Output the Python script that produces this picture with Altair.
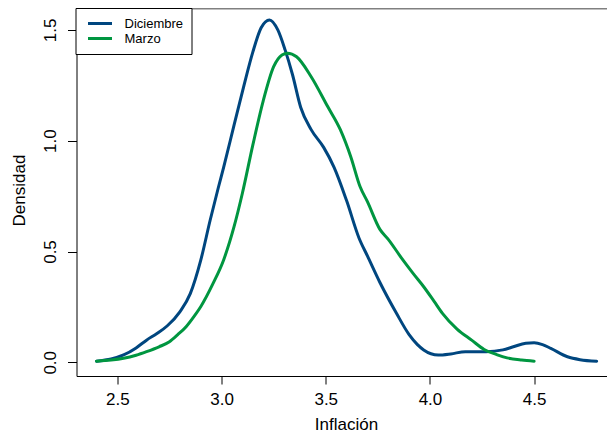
import altair as alt
import pandas as pd

# Diciembre density curve (x = inflación, d = densidad)
dic_x = [2.40, 2.47, 2.53, 2.59, 2.64, 2.69, 2.74, 2.80, 2.85, 2.90, 2.945, 2.985, 3.01, 3.06,
         3.105, 3.15, 3.19, 3.23, 3.27, 3.305, 3.34, 3.38, 3.43, 3.49, 3.54, 3.60, 3.66, 3.70,
         3.76, 3.84, 3.90, 3.94, 3.97, 4.04, 4.10, 4.17, 4.27, 4.35, 4.40, 4.46, 4.50, 4.54,
         4.58, 4.66, 4.72, 4.80]
dic_d = [0.005, 0.015, 0.033, 0.065, 0.10, 0.13, 0.165, 0.228, 0.31, 0.46, 0.64, 0.79, 0.88, 1.07,
         1.24, 1.40, 1.51, 1.545, 1.50, 1.41, 1.30, 1.15, 1.05, 0.97, 0.88, 0.73, 0.56, 0.48,
         0.36, 0.22, 0.125, 0.08, 0.056, 0.033, 0.038, 0.048, 0.048, 0.056, 0.070, 0.086, 0.088, 0.080,
         0.063, 0.025, 0.012, 0.005]

# Marzo density curve
mar_x = [2.40, 2.47, 2.53, 2.59, 2.64, 2.70, 2.75, 2.79, 2.83, 2.87, 2.90, 2.96, 3.01, 3.06,
         3.10, 3.15, 3.20, 3.25, 3.29, 3.316, 3.36, 3.43, 3.51, 3.57, 3.62, 3.665, 3.70, 3.76,
         3.80, 3.87, 3.92, 3.97, 4.02, 4.06, 4.13, 4.20, 4.26, 4.32, 4.37, 4.44, 4.50]
mar_d = [0.005, 0.010, 0.018, 0.032, 0.048, 0.07, 0.093, 0.125, 0.161, 0.21, 0.251, 0.357, 0.462, 0.612,
         0.763, 0.98, 1.18, 1.334, 1.387, 1.395, 1.379, 1.289, 1.153, 1.05, 0.928, 0.792, 0.725, 0.60,
         0.555, 0.462, 0.40, 0.341, 0.275, 0.221, 0.15, 0.10, 0.058, 0.035, 0.02, 0.01, 0.005]

series = ["Diciembre", "Marzo"]
colors = ["#00467f", "#009640"]
x_ticks = [2.5, 3.0, 3.5, 4.0, 4.5]
y_ticks = [0.0, 0.5, 1.0, 1.5]

df = pd.concat([
    pd.DataFrame({"x": dic_x, "d": dic_d, "serie": series[0], "o": range(len(dic_x))}),
    pd.DataFrame({"x": mar_x, "d": mar_d, "serie": series[1], "o": range(len(mar_x))}),
])

FONT = "Liberation Sans"
xscale = alt.Scale(domain=[2.304, 4.8496], nice=False, zero=False)
yscale = alt.Scale(domain=[-0.0618, 1.599], nice=False, zero=False)

lines = alt.Chart(df).mark_line(strokeWidth=3, interpolate="monotone", strokeCap="round").encode(
    x=alt.X("x:Q", scale=xscale,
            axis=alt.Axis(values=x_ticks, format=".1f", title="Inflación", grid=False,
                          tickSize=8, tickColor="black", domainColor="black",
                          labelFontSize=17, labelColor="black", labelPadding=7,
                          labelFont=FONT, labelFlush=False, labelOverlap=False,
                          titleFont=FONT, titleFontSize=17, titleFontWeight="normal",
                          titleColor="black", titleBaseline="alphabetic", titleY=53, titleX=269.5)),
    y=alt.Y("d:Q", scale=yscale,
            axis=alt.Axis(values=y_ticks, format=".1f", title="Densidad", grid=False,
                          tickSize=9, tickColor="black", domainColor="black",
                          labelFontSize=17, labelColor="black", labelAngle=270,
                          labelAlign="center", labelBaseline="alphabetic", labelPadding=12,
                          labelFont=FONT, labelFlush=False, labelOverlap=False,
                          titleFont=FONT, titleFontSize=17, titleFontWeight="normal",
                          titleColor="black", titleAngle=270, titleAlign="center",
                          titleBaseline="alphabetic", titleX=-52.5, titleY=182)),
    color=alt.Color("serie:N", scale=alt.Scale(domain=series, range=colors),
                    legend=alt.Legend(title=None, orient="none", legendX=-1, legendY=0,
                                      fillColor="white", strokeColor="black", padding=8,
                                      symbolType="stroke", symbolSize=576, symbolStrokeWidth=3,
                                      symbolOffset=3, labelOffset=11, labelFontSize=13,
                                      labelFont=FONT, labelColor="black", clipHeight=15,
                                      rowPadding=0, cornerRadius=0)),
    order="o:Q",
)

top = alt.Chart(df).mark_point(opacity=0).encode(
    x=alt.X("x:Q", scale=xscale,
            axis=alt.Axis(orient="top", labels=False, ticks=False, title=None, grid=False,
                          domainColor="#808080", domainWidth=2)),
    y=alt.Y("d:Q", scale=yscale, axis=None),
)

chart = alt.layer(lines, top).resolve_axis(x="independent", y="independent").properties(
    width=530.5, height=368,
    autosize=alt.AutoSizeParams(type="none"),
    padding={"left": 68.5, "top": 0, "right": 0, "bottom": 57},
).configure_view(stroke="transparent")

chart.save("out.html", embed_options={"renderer": "svg", "actions": False})
